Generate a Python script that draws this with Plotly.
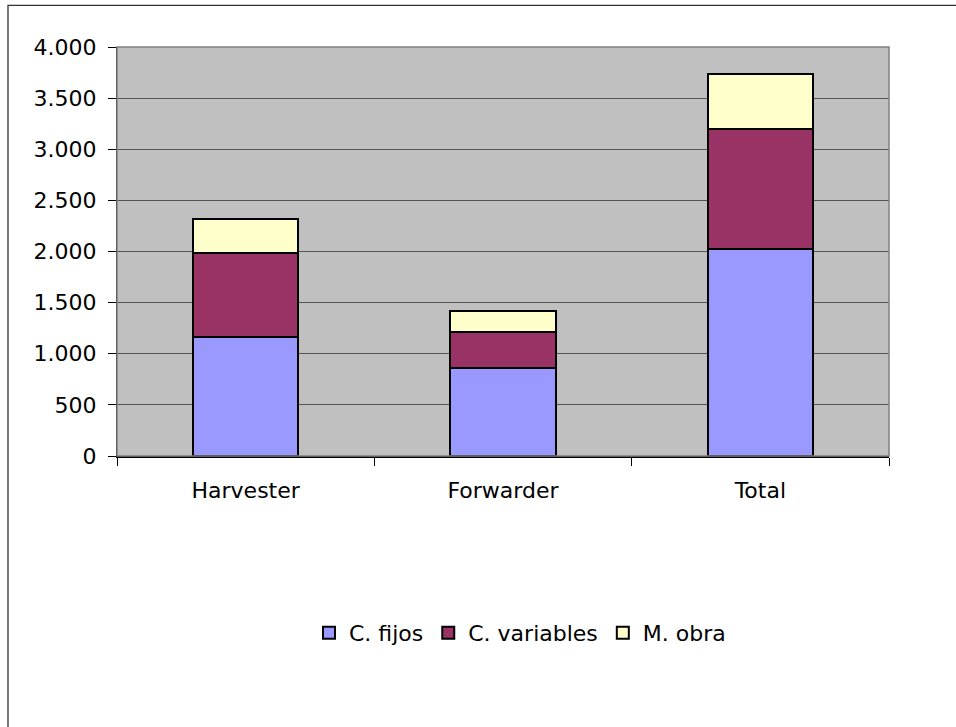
import plotly.graph_objects as go

# Machine cost breakdown per system
categories = ["Harvester", "Forwarder", "Total"]
c_fijos = [1160, 865, 2025]
c_variables = [825, 352, 1177]
m_obra = [337, 200, 537]

series = [
    ("C. fijos", c_fijos, "#9999FF"),
    ("C. variables", c_variables, "#993366"),
    ("M. obra", m_obra, "#FFFFCC"),
]

FONT = "DejaVu Sans"
FS = 22
W, H = 956, 727
L, R, T, B = 117, 889, 46.7, 456  # plot area in pixels

fig = go.Figure()
for name, vals, color in series:
    fig.add_trace(go.Bar(
        x=categories, y=vals, name=name,
        marker=dict(color=color, line=dict(color="black", width=2)),
    ))

def px_x(p):
    return (p - L) / (R - L)

def px_y(p):
    return (B - p) / (B - T)

fig.update_layout(
    width=W, height=H,
    margin=dict(l=L, r=W - R, t=T, b=H - B, pad=0),
    barmode="stack",
    bargap=0.59,
    separators=",.",
    paper_bgcolor="white",
    plot_bgcolor="#C0C0C0",
    font=dict(family=FONT, size=FS, color="black"),
    showlegend=True,
    legend=dict(
        orientation="h",
        traceorder="normal",
        x=px_x(520), xanchor="center",
        y=px_y(633), yanchor="middle",
        font=dict(family=FONT, size=FS, color="black"),
        bgcolor="rgba(0,0,0,0)",
        itemwidth=30,
        tracegroupgap=0,
    ),
    shapes=[
        # outer chart frame
        dict(type="rect", xref="paper", yref="paper",
             x0=px_x(8), x1=px_x(970), y0=px_y(740), y1=px_y(5),
             line=dict(color="#333333", width=1.3), layer="below"),
        # plot area border
        dict(type="rect", xref="paper", yref="paper",
             x0=0, x1=1, y0=0, y1=1,
             line=dict(color="#808080", width=1.5), layer="above"),
    ],
)

fig.update_yaxes(
    range=[0, 4000], dtick=500, tickformat=",d",
    showgrid=True, gridcolor="#555555", gridwidth=1,
    ticks="outside", ticklen=8, tickcolor="black", tickwidth=1,
    showline=True, linecolor="black", linewidth=1,
    ticklabelstandoff=7,
    zeroline=False,
    tickfont=dict(family=FONT, size=FS, color="black"),
)
fig.update_xaxes(
    tickson="boundaries",
    ticks="outside", ticklen=8, tickcolor="black", tickwidth=1,
    showline=True, linecolor="black", linewidth=1.5,
    showgrid=False,
    ticklabelstandoff=14,
    tickfont=dict(family=FONT, size=FS, color="black"),
)

fig.write_html("out.html")
